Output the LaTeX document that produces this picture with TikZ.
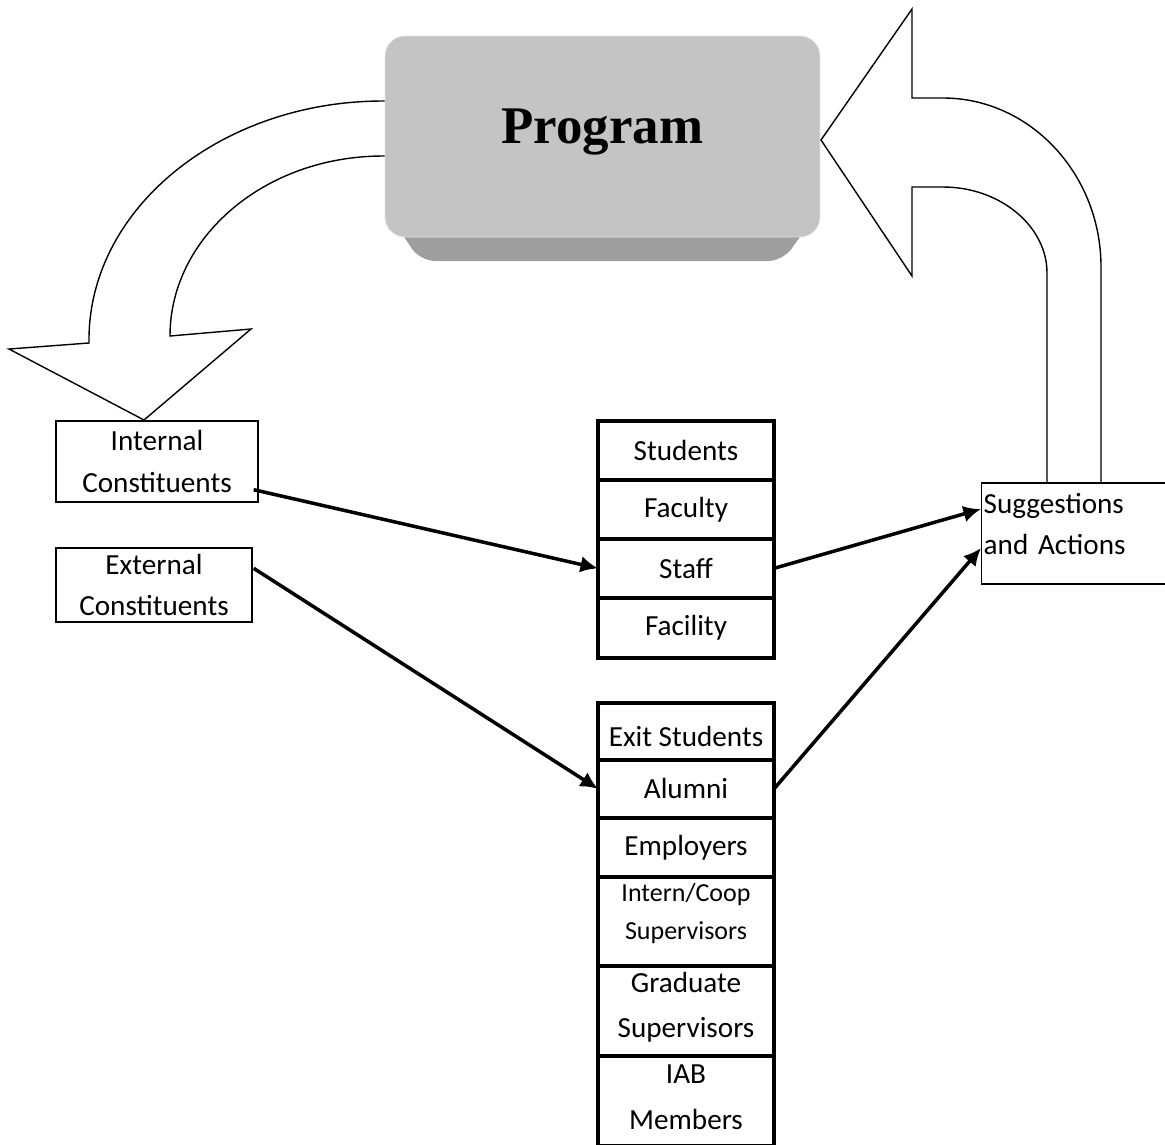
\documentclass[tikz,border=0pt]{standalone}
\usepackage{fontspec}
\setmainfont{Carlito}
\newfontfamily\progfont{Liberation Serif}
\usetikzlibrary{positioning,arrows.meta}
\definecolor{facegray}{RGB}{196,196,196}
\definecolor{bevelgray}{RGB}{158,158,158}

\begin{document}
\begin{tikzpicture}[x = 0.02cm, y = -0.02cm, >={Latex[length=10pt,width=9.5pt]},
	progbox/.style = {fill=facegray, draw=black!12, rounded corners=0.4cm, minimum width=8.7cm, minimum height=4.02cm, text depth=0.43cm, font=\progfont\bfseries\fontsize{30.1}{36}\selectfont},
	conbox/.style = {draw, line width=0.8pt, fill=white, align=center, inner sep=0pt, font=\fontsize{16.6}{23.5}\selectfont},
	cell/.style = {draw, line width=1.1pt, fill=white, minimum width=3.48cm, inner sep=0pt, align=center, font=\fontsize{16.6}{26}\selectfont},
	bigarrow/.style = {draw, line width=0.8pt, fill=white, line join=miter},
	link/.style = {->, line width=2pt}]
	\useasboundingbox (0,0) rectangle (1165,1144);
	\clip (0,0) rectangle (1165,1144);
	% arrow out of the program
	\draw[bigarrow] (400,101) -- (383,101) .. controls (221,101) and (87,209) .. (89,343) -- (9,349) -- (144,420) -- (251,329) -- (170,336) .. controls (170,237) and (265,156) .. (383,156) -- (400,156);
	% program block
	\fill[bevelgray, rounded corners=0.3cm] (385,208) -- (420,261) -- (783,261) -- (820,208) -- cycle;
	\node[progbox] (prog) at (602.5,136.5) {Program};
	% arrow back into the program
	\draw[bigarrow] (1047,483) -- (1047,273) .. controls (1047,226) and (1000,187) .. (943,187) -- (912,187) -- (912,276) -- (821,140) -- (912,9) -- (912,98) -- (943,98) .. controls (1030,98) and (1101,174) .. (1101,267) -- (1101,483);
	% constituents and results
	\node[conbox, minimum width=4.04cm, minimum height=1.62cm] (incon) at (157,461.5) {Internal\\Constituents};
	\node[conbox, minimum width=3.92cm, minimum height=1.48cm] (excon) at (154,585) {External\\Constituents};
	\node[conbox, anchor=west, text width=3.72cm, align=left, inner xsep=0.04cm, minimum height=2.02cm, text depth=1.22cm] (sugg) at (981,533.5) {Suggestions\\and Actions};
	% internal stack
	\node[cell, minimum height=1.14cm] (stu) at (686,450.5) {Students};
	\node[cell, minimum height=1.14cm, below=0pt of stu] (fac) {Faculty};
	\node[cell, minimum height=1.14cm, below=0pt of fac] (sta) {Staff};
	\node[cell, minimum height=1.16cm, below=0pt of sta] (fcl) {Facility};
	\draw[line width=2.3pt] (stu.north west) rectangle (fcl.south east);
	% external stack
	\node[cell, minimum height=1.1cm, text height=0.6cm] (exs) at (686,731.5) {Exit Students};
	\node[cell, minimum height=1.12cm, below=0pt of exs] (alu) {Alumni};
	\node[cell, minimum height=1.14cm, below=0pt of alu] (emp) {Employers};
	\node[cell, minimum height=1.74cm, below=0pt of emp, text height=1.1cm, text depth=0.38cm, font=\fontsize{14.8}{21.5}\selectfont] (coop) {Intern/Coop\\Supervisors};
	\node[cell, minimum height=1.76cm, below=0pt of coop, text height=1.2cm, text depth=0.12cm] (grad) {Graduate\\Supervisors};
	\node[cell, minimum height=1.76cm, below=0pt of grad, text height=1.2cm, text depth=0.06cm] (iab) {IAB\\Members};
	\draw[line width=2.3pt] (exs.north west) rectangle (iab.south east);
	% connectors
	\draw[link] ([shift={(-5,-13)}]incon.south east) -- (sta.west);
	\draw[link] ([shift={(1,21)}]excon.north east) -- (alu.west);
	\draw[link] (sta.east) -- ([shift={(0,-24.5)}]sugg.west);
	\draw[link] (alu.east) -- ([shift={(0,14.5)}]sugg.west);
\end{tikzpicture}
\end{document}
